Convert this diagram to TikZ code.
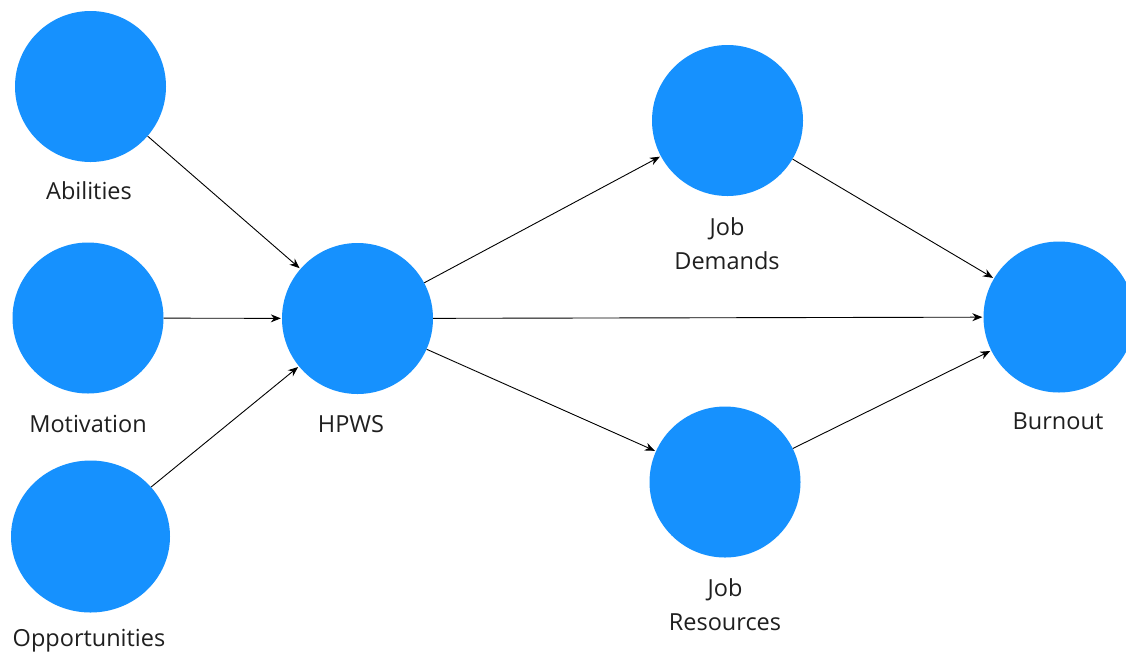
\documentclass[tikz,border=0pt]{standalone}
\usepackage{fontspec}
\setmainfont{Open Sans}
\usetikzlibrary{arrows.meta,shapes.geometric}
\definecolor{nodeblue}{RGB}{22,145,254}
\tikzset{
  bubble/.style={circle, fill=nodeblue, draw=none, minimum size=151pt, inner sep=0pt},
  lbl/.style={font=\fontsize{23.5}{34}\selectfont, text=black!88, align=center, inner sep=0pt},
  link/.style={draw=black, line width=0.9pt, -{Stealth[length=10pt,width=8pt]}, shorten >=1pt}
}
\begin{document}
\begin{tikzpicture}[x=1pt,y=-1pt]
\useasboundingbox (0,0) rectangle (1126,657);
\fill[white] (0,0) rectangle (1126,657);
\node[bubble] (abi) at (90.5,86.5) {};
\node[bubble] (mot) at (88,318) {};
\node[ellipse, fill=nodeblue, draw=none, inner sep=0pt, minimum width=159pt, minimum height=152pt] (opp) at (90.5,536.5) {};
\node[bubble] (hpws) at (357.5,318.5) {};
\node[bubble] (jd) at (727.5,120.5) {};
\node[bubble] (jr) at (725,482) {};
\node[bubble] (bo) at (1059,317) {};

\node[lbl] (labi) at (89,191) {Abilities};
\node[lbl] (lmot) at (88,424) {Motivation};
\node[lbl] (lopp) at (89,641) {Opportunities};
\node[lbl] (lhpws) at (351,424) {HPWS};
\node[lbl] (ljd) at (727,244) {Job\\Demands};
\node[lbl] (ljr) at (725,605) {Job\\Resources};
\node[lbl] (lbo) at (1058,421) {Burnout};

\draw[link] (abi) -- (hpws);
\draw[link] (mot) -- (hpws);
\draw[link] (opp) -- (hpws);
\draw[link] (hpws) -- (jd);
\draw[link] (hpws) -- (bo);
\draw[link] (hpws) -- (jr);
\draw[link] (jd) -- (bo);
\draw[link] (jr) -- (bo);
\end{tikzpicture}
\end{document}
